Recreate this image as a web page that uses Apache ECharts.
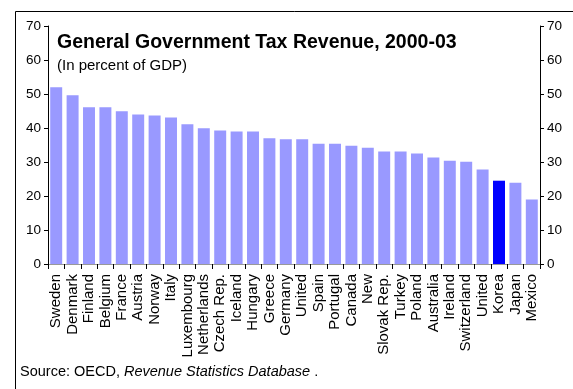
<!DOCTYPE html>
<html>
<head>
<meta charset="utf-8">
<script src="https://cdn.jsdelivr.net/npm/echarts@6/dist/echarts.min.js"></script>
<style>
html,body{margin:0;padding:0;background:#fff;}
#c{width:573px;height:389px;}
</style>
</head>
<body>
<div id="c"></div>
<script>
const countries = ["Sweden","Denmark","Finland","Belgium","France","Austria","Norway","Italy","Luxembourg","Netherlands","Czech Rep.","Iceland","Hungary","Greece","Germany","United","Spain","Portugal","Canada","New","Slovak Rep.","Turkey","Poland","Australia","Ireland","Switzerland","United","Korea","Japan","Mexico"];
const taxRevenue = [52.0,49.6,46.1,46.1,44.9,44.0,43.7,43.1,41.1,39.9,39.3,39.0,39.0,37.0,36.7,36.7,35.4,35.4,34.8,34.2,33.1,33.1,32.5,31.3,30.4,30.1,27.8,24.5,23.9,19.0];
const highlightCountry = "Korea";
const yTicks = [0,10,20,30,40,50,60,70];

const FONT = '"Liberation Sans", Arial, sans-serif';
const chart = echarts.init(document.getElementById('c'), null, {renderer:'canvas'});

const yAxisBase = (pos) => ({
  type:'value', position:pos, min:yTicks[0], max:yTicks[yTicks.length-1], interval:yTicks[1]-yTicks[0],
  axisLine:{show:true, lineStyle:{color:'#000', width:1}},
  axisTick:{show:true, inside:false, length:4, lineStyle:{color:'#000'}},
  axisLabel:{color:'#000', fontFamily:FONT, fontSize:13.5, margin:7},
  splitLine:{show:false}
});

chart.setOption({
  animation:false,
  backgroundColor:'#fff',
  grid:{left:48, right:33, top:26, bottom:125, containLabel:false},
  xAxis:[{
    type:'category', data:countries, position:'bottom',
    axisLine:{show:true, lineStyle:{color:'#000', width:1}},
    axisTick:{show:true, length:5, alignWithLabel:false, lineStyle:{color:'#000'}},
    axisLabel:{rotate:90, interval:0, color:'#000', fontFamily:FONT, fontSize:15, margin:10},
  },{
    type:'category', data:countries, position:'top',
    axisLine:{show:true, lineStyle:{color:'#999', width:1}},
    axisTick:{show:false}, axisLabel:{show:false}
  }],
  yAxis:[yAxisBase('left'), yAxisBase('right')],
  series:[{
    type:'bar', xAxisIndex:0, yAxisIndex:0,
    barCategoryGap:'27%',
    data: taxRevenue.map((v,i)=>({value:v, itemStyle:{color: countries[i]===highlightCountry ? '#0000FF' : '#9999FF'}}))
  }],
  graphic:[
    {type:'line', shape:{x1:0,y1:0,x2:0,y2:400}, style:{stroke:'#000', lineWidth:1}, silent:true, top:9, left:13},
    {type:'line', shape:{x1:0,y1:0,x2:600,y2:0}, style:{stroke:'#000', lineWidth:1}, silent:true, left:13, top:9},
    {type:'text', left:57, top:33, style:{text:'General Government Tax Revenue, 2000-03', font:'bold 19.5px '+FONT, fill:'#000'}},
    {type:'text', left:57, top:58, style:{text:'(In percent of GDP)', font:'15px '+FONT, fill:'#000'}},
    {type:'text', left:20, top:364, style:{
      text:'{n|Source: OECD, }{i|Revenue Statistics Database}{n| .}',
      rich:{n:{font:'14.5px '+FONT, fill:'#000'}, i:{font:'italic 14.5px '+FONT, fill:'#000'}}
    }}
  ]
});
</script>
</body>
</html>
